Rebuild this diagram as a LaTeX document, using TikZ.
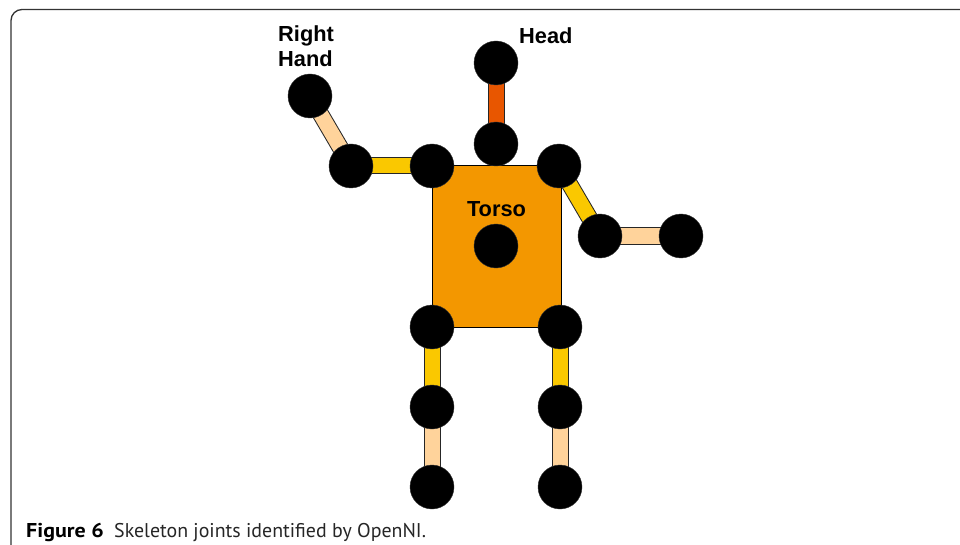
\documentclass[tikz,border=0pt]{standalone}
\usepackage{fontspec}
\setmainfont{Liberation Sans}
\newfontfamily\capfont{PT Sans}
\newfontfamily\capbfont[FakeStretch=1.1]{PT Sans}
\usetikzlibrary{backgrounds}
\definecolor{torsoc}{HTML}{F39700}
\definecolor{headc}{HTML}{E85600}
\definecolor{upperc}{HTML}{FAC800}
\definecolor{lowerc}{HTML}{FFD39B}
\definecolor{framec}{HTML}{333333}
\tikzset{
  joint/.style={circle, fill=black, draw=black!80, line width=0.4pt, minimum size=44pt, inner sep=0pt},
  bone/.style={draw=black!85, line width=1pt, double=#1, double distance=15pt},
  lbl/.style={font=\bfseries\fontsize{21.8}{25}\selectfont, inner sep=0pt, anchor=base west},
  captxt/.style={inner sep=0pt, anchor=base west, font=\capfont\fontsize{19.9}{23}\selectfont, text=black!85}
}
\begin{document}
\begin{tikzpicture}[x=1pt, y=-1pt]
\useasboundingbox (0,0) rectangle (960,545);
\begin{scope}[on background layer]
\fill[white] (0,0) rectangle (960,545);
\end{scope}
% frame
\draw[framec, line width=1.3pt, rounded corners=11pt] (11,546) -- (11,9.5) -- (961,9.5);
% torso box
\node[draw=black, line width=0.8pt, fill=torsoc, minimum width=129pt, minimum height=162pt, inner sep=0pt] (torsobox) at (496.5,246) {};
% joints
\node[joint] (rhand) at (310,96) {};
\node[joint] (relbow) at (351,166) {};
\node[joint] (rshoulder) at (432,166) {};
\node[joint] (head) at (496,63) {};
\node[joint] (neck) at (496,144) {};
\node[joint] (lshoulder) at (559,166) {};
\node[joint] (lelbow) at (600,236) {};
\node[joint] (lhand) at (681,236) {};
\node[joint] (torso) at (496,246) {};
\node[joint] (rhip) at (432,327) {};
\node[joint] (lhip) at (560,327) {};
\node[joint] (rknee) at (432,407) {};
\node[joint] (lknee) at (560,407) {};
\node[joint] (rfoot) at (432,487) {};
\node[joint] (lfoot) at (560,487) {};
% bones
\begin{scope}[on background layer]
\draw[bone=lowerc] (rhand.center) -- (relbow.center);
\draw[bone=upperc] (relbow.center) -- (rshoulder.center);
\draw[bone=headc] (head.center) -- (neck.center);
\draw[bone=upperc] (lshoulder.center) -- (lelbow.center);
\draw[bone=lowerc] (lelbow.center) -- (lhand.center);
\draw[bone=upperc] (rhip.center) -- (rknee.center);
\draw[bone=lowerc] (rknee.center) -- (rfoot.center);
\draw[bone=upperc] (lhip.center) -- (lknee.center);
\draw[bone=lowerc] (lknee.center) -- (lfoot.center);
\end{scope}
% labels
\node[lbl] (rhlbl1) at (278,42) {Right};
\node[lbl] (rhlbl2) at (278,67) {Hand};
\node[lbl] (headlbl) at (519,44) {Head};
\node[lbl, anchor=base] (torsolbl) at (496.5,217) {Torso};
% caption
\node[captxt, font=\capbfont\bfseries\fontsize{20}{23}\selectfont, text=black] (capnum) at (26,537) {Figure 6};
\node[captxt] (captext) at (114,537) {Skeleton joints identified by OpenNI.};
\end{tikzpicture}
\end{document}
